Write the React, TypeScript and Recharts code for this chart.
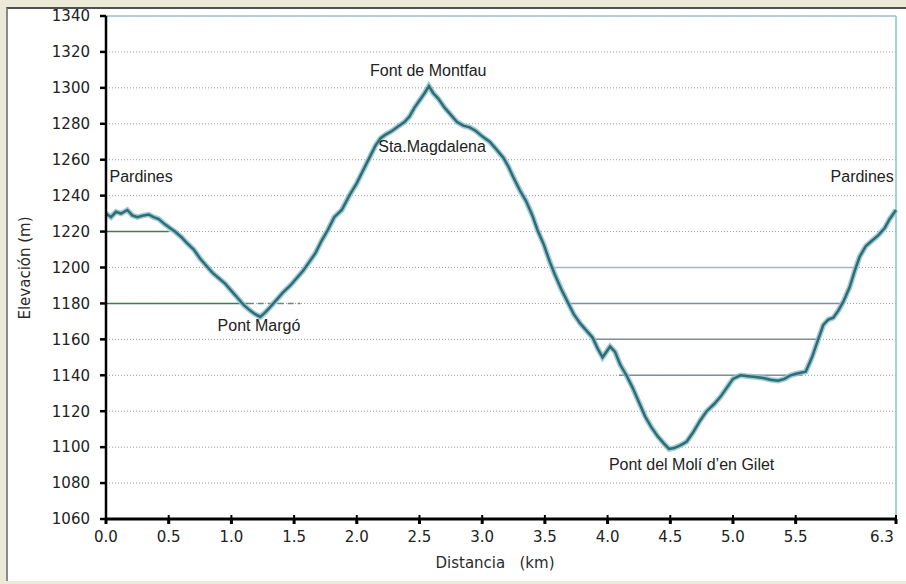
import React from 'react';
import { LineChart, Line, XAxis, YAxis, CartesianGrid, ReferenceLine, ReferenceDot } from 'recharts';

// distance (km) and elevation (m)
const distanceKm = [
  0.0, 0.04, 0.08, 0.12, 0.17, 0.21, 0.25, 0.3, 0.34, 0.38, 0.42, 0.47, 0.51, 0.55, 0.6, 0.64,
  0.7, 0.75, 0.8, 0.85, 0.9, 0.95, 1.0, 1.05, 1.1, 1.15, 1.19, 1.23, 1.27, 1.31, 1.36, 1.41,
  1.47, 1.52, 1.57, 1.62, 1.67, 1.72, 1.77, 1.82, 1.88, 1.94, 2.0, 2.05, 2.1, 2.15, 2.19, 2.23,
  2.28, 2.34, 2.38, 2.42, 2.46, 2.5, 2.54, 2.575, 2.61, 2.65, 2.7, 2.75, 2.8, 2.85, 2.9, 2.95,
  3.0, 3.06, 3.11, 3.17, 3.21, 3.25, 3.3, 3.35, 3.4, 3.44, 3.49, 3.54, 3.58, 3.63, 3.68, 3.73,
  3.78, 3.83, 3.88, 3.92, 3.96, 3.99, 4.02, 4.06, 4.1, 4.15, 4.2, 4.25, 4.3, 4.35, 4.4, 4.45,
  4.49, 4.53, 4.58, 4.63, 4.68, 4.74, 4.79, 4.85, 4.9, 4.95, 5.0, 5.06, 5.12, 5.18, 5.24, 5.3,
  5.36, 5.41, 5.46, 5.51, 5.58, 5.63, 5.67, 5.72, 5.76, 5.8, 5.84, 5.88, 5.93, 5.97, 6.01, 6.06,
  6.11, 6.16, 6.21, 6.25, 6.3,
];
const elevationM = [
  1230, 1228, 1231, 1230, 1232, 1229, 1228, 1229, 1229.5, 1228, 1227, 1224, 1222, 1220, 1217, 1214,
  1210, 1205, 1201, 1197, 1194, 1191, 1187, 1183, 1179, 1176, 1174, 1172.5, 1175, 1178, 1182, 1186,
  1190, 1194, 1198, 1203, 1208, 1215, 1221, 1228, 1232, 1240, 1247, 1254, 1261, 1268, 1272, 1274,
  1276, 1279, 1281, 1284, 1289, 1293, 1297, 1301, 1297, 1294, 1289, 1285, 1281, 1279, 1278, 1276,
  1273, 1270, 1266, 1261, 1256, 1250, 1243, 1237, 1229, 1221, 1213, 1203, 1196, 1188, 1181, 1174,
  1169, 1165, 1161, 1155, 1150, 1153, 1156, 1153, 1146, 1140, 1133, 1125, 1117, 1111, 1106, 1102,
  1099, 1099.5, 1101, 1103, 1108, 1115, 1120, 1124, 1128, 1133, 1138, 1140, 1139.5, 1139, 1138.5, 1137.5,
  1137, 1138, 1140, 1141, 1142, 1150, 1158, 1168, 1171, 1172, 1176, 1181, 1189, 1198, 1206, 1212,
  1215, 1218, 1222, 1227, 1232,
];

const xTicks = [0, 0.5, 1, 1.5, 2, 2.5, 3, 3.5, 4, 4.5, 5, 5.5, 6.3];
const yTicks = [1060, 1080, 1100, 1120, 1140, 1160, 1180, 1200, 1220, 1240, 1260, 1280, 1300, 1320, 1340];

// place names: [name, km, elevation] of the label centre
const placeNames: [string, number, number][] = [
  ['Pardines', 0.28, 1250.5],
  ['Font de Montfau', 2.57, 1310],
  ['Sta.Magdalena', 2.6, 1267.5],
  ['Pont Margó', 1.22, 1168],
  ['Pont del Molí d\u2019en Gilet', 4.67, 1090.5],
  ['Pardines', 6.03, 1250.5],
];

// stray horizontal strokes in the plot: [elevation, fromKm, toKm]
const greenStrokes: [number, number, number][] = [
  [1220, 0, 0.5],
  [1180, 0, 1.13],
];
const greyStrokes: [number, number, number][] = [
  [1200, 3.54, 5.99],
  [1180, 3.68, 5.88],
  [1160, 3.88, 5.68],
  [1140, 4.09, 5.55],
];

const data = distanceKm.map((km, i) => ({ km, elev: elevationM[i] }));

const tickFont = { fill: '#222', fontSize: 15, fontFamily: 'DejaVu Sans' };

// x ticks: a small cross on the axis, the last label pulled in from the edge
const DistanceTick = (props: any) => {
  const { x, y, payload, index } = props;
  const last = index === xTicks.length - 1;
  return (
    <g>
      <line x1={x} x2={x} y1={y - 9} y2={y - 1} stroke="#000" strokeWidth={2} />
      <text x={last ? x - 14 : x} y={y + 18} textAnchor="middle" {...tickFont}>
        {Number(payload.value).toFixed(1)}
      </text>
    </g>
  );
};

const App: React.FC = () => {
  return (
    <div style={{ position: 'absolute', left: 0, top: 0, width: 906, height: 584, background: '#ece9d8', overflow: 'hidden' }}>
      <div
        style={{
          position: 'absolute', left: 6, top: 7, width: 900, height: 574, background: '#fff',
          borderTop: '2px solid #505050', borderLeft: '2px solid #8a8a8a', boxSizing: 'border-box',
        }}
      />
      <div style={{ position: 'absolute', left: 0, top: 0 }}>
        <LineChart width={906} height={584} data={data} margin={{ top: 16, right: 10, left: 46, bottom: 35 }}>
          <CartesianGrid vertical={false} stroke="#9a9a9a" strokeDasharray="1 2" />
          <XAxis
            dataKey="km"
            type="number"
            domain={[0, 6.3]}
            ticks={xTicks}
            height={30}
            stroke="#000"
            strokeWidth={3}
            tickSize={5}
            tickMargin={0}
            tick={<DistanceTick />}
            interval={0}
          />
          <YAxis
            type="number"
            domain={[1060, 1340]}
            ticks={yTicks}
            width={60}
            stroke="#000"
            strokeWidth={2.5}
            tickSize={6}
            tickMargin={10}
            tick={tickFont}
            interval={0}
          />
          <ReferenceLine y={1340} stroke="#9cc3dd" strokeWidth={1.5} />
          <ReferenceLine x={6.3} stroke="#8cc4c0" strokeWidth={1.5} />
          {greenStrokes.map(([y, a, b], i) => (
            <ReferenceLine key={`g${i}`} segment={[{ x: a, y }, { x: b, y }]} stroke="#3f7d55" strokeWidth={1.5} />
          ))}
          <ReferenceLine segment={[{ x: 1.13, y: 1180 }, { x: 1.55, y: 1180 }]} stroke="#5e8f6e" strokeWidth={1.5} strokeDasharray="6 4" />
          {greyStrokes.map(([y, a, b], i) => (
            <ReferenceLine key={`s${i}`} segment={[{ x: a, y }, { x: b, y }]} stroke={i === 0 ? '#a9b3bf' : '#7f8d9c'} strokeWidth={1.5} />
          ))}
          <Line dataKey="elev" type="linear" stroke="#8fc0de" strokeWidth={5.5} strokeOpacity={0.85} dot={false} isAnimationActive={false} />
          <Line dataKey="elev" type="linear" stroke="#2f6e69" strokeWidth={2.5} dot={false} isAnimationActive={false} />
          {placeNames.map(([name, km, elev], i) => (
            <ReferenceDot
              key={`p${i}`}
              x={km}
              y={elev}
              r={0}
              fill="none"
              stroke="none"
              label={{ value: name, position: 'center', fill: '#222', fontSize: 16, fontFamily: 'Liberation Sans' }}
            />
          ))}
        </LineChart>
      </div>
      <div
        style={{
          position: 'absolute', left: 25, top: 268, transform: 'translate(-50%, -50%) rotate(-90deg)',
          whiteSpace: 'nowrap', fontFamily: 'DejaVu Sans', fontSize: 15, color: '#2a2a2a',
        }}
      >
        Elevación (m)
      </div>
      <div
        style={{
          position: 'absolute', left: 495, top: 563, transform: 'translate(-50%, -50%)',
          whiteSpace: 'pre', fontFamily: 'DejaVu Sans', fontSize: 15, color: '#2a2a2a',
        }}
      >
        {'Distancia   (km)'}
      </div>
    </div>
  );
};

export default App;
